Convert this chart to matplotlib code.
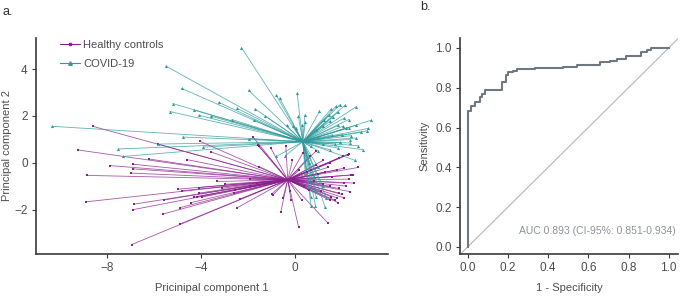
import matplotlib
matplotlib.use("Agg")
import matplotlib.pyplot as plt
from matplotlib.lines import Line2D

plt.rcParams['font.family'] = ['Liberation Sans', 'DejaVu Sans']

# ---------------- Panel a data (PCA scores) ----------------
healthy_center = (-0.30, -0.73)
covid_center = (0.34, 0.90)

healthy_x = [-8.61, -9.25, -7.87, -6.91, -6.91, -6.99, -8.84, -6.20, -4.57, -4.04,
             -3.55, -5.83, -3.30, -2.98, -4.99, -4.82, -4.07, -4.10, -4.28, -4.40,
             -5.56, -4.89, -5.60, -6.84, -6.91, -8.89, -4.89, -6.95, -2.45, -2.34,
             -2.55, -1.91, -0.92, -0.60, 0.16, 1.42, -1.52, -1.02, -0.38, -1.77,
             -1.56, -1.53, -1.63, -3.08, -1.91, -4.18, -3.97, -2.60,
             0.63, 0.34, 1.90, 2.26, 2.31, 2.06, 1.20, 1.50, 0.90, 2.11,
             2.70, 2.48, 2.40, 2.30, 2.54, 2.10, 1.90, 2.33, 2.00, 1.78,
             1.50, 1.84, 1.90, 2.10, 1.70, 1.55, 0.60, 1.30, 1.60, 1.00,
             0.80, 1.20, 1.50, 0.50, 0.70, 1.80, 1.10, 0.40, 2.20, 1.40,
             0.90, -0.16, -0.99, -0.50, 0.30, -0.20, -0.10, 0.20]
healthy_y = [1.56, 0.55, -0.12, -0.06, -0.26, -0.44, -0.54, 0.16, 0.13, 0.92,
             0.46, 0.80, -0.80, -0.92, -1.13, -1.20, -1.06, -1.30, -1.47, -1.70,
             -1.59, -1.92, -2.19, -1.77, -2.01, -1.67, -2.62, -3.50, -1.92, -1.55,
             -1.16, -0.70, -1.37, -2.12, -2.75, -2.59, 0.70, 0.63, 0.70, 1.09,
             0.74, -0.16, -0.85, -1.09, -1.00, -1.45, -1.47, -1.30,
             0.27, 0.42, 0.20, 0.34, 0.39, 0.28, 0.10, 0.00, -0.10, -0.23,
             -0.20, -0.52, -0.52, -0.70, -0.87, -0.87, -1.10, -1.23, -1.35, -1.50,
             -1.60, -1.70, -1.30, -1.50, -1.60, -1.45, -1.16, -0.40, -0.60, -0.50,
             -0.80, -0.90, -1.00, -0.40, -0.30, -0.30, -1.20, -1.00, -1.00, -0.20,
             0.50, -1.59, -1.34, -1.50, -1.60, -1.20, 0.10, -0.30]

covid_x = [-10.35, -5.83, -7.52, -7.30, -3.90, -0.78, -0.40, -2.27, -5.50, -4.82,
           -1.97, 0.10, -5.19, -5.32, -3.23, -4.28, -4.07, -3.57, -2.46, -1.69,
           -1.25, -2.68, -1.73, -0.79, -0.64, -0.35, 0.15, 0.43, 0.31, 0.04,
           -0.07, -4.78, -1.96,
           0.45, 1.05, 1.55, 1.76, 1.93, 2.13, 2.62, 1.47, 1.83, 2.11,
           2.30, 1.26, 3.26, 3.12, 3.09, 2.91, 2.70, 2.58, 2.41, 2.34,
           2.20, 2.30, 2.06, 1.85, 1.63, 1.49, 1.20, 0.92, 1.94, 1.70,
           1.20, 2.61, 2.33, 1.83, 1.50, 1.00, 0.70, 2.00, 1.60, 1.00,
           2.80, 2.60,
           0.69, 0.88, 1.29, 0.91, 0.68, 1.35, 0.55, 0.80, 1.00, 0.60,
           1.20, 0.45, 0.90]
covid_y = [1.56, 0.80, 0.59, 0.27, 0.67, 0.27, 0.30, 4.92, 4.14, 3.18,
           3.10, 2.98, 2.53, 2.19, 2.58, 2.25, 2.03, 1.99, 2.33, 2.30,
           1.99, 1.85, 1.82, 2.89, 2.77, 1.60, 1.99, 2.04, 1.63, 1.49,
           1.56, 1.10, 1.02,
           1.73, 2.20, 2.30, 2.42, 2.49, 2.45, 2.40, 2.06, 2.16, 1.92,
           1.85, 1.85, 1.82, 1.47, 1.37, 0.56, 0.73, 0.10, 1.16, 0.99,
           1.49, 1.50, 1.56, 1.60, 1.96, 1.77, 1.56, 1.42, 0.87, 0.80,
           0.80, 1.06, 0.85, 0.63, 0.55, 0.50, 0.70, 1.20, 1.20, 1.10,
           1.30, 1.60,
           -1.83, -1.83, -1.90, -1.45, -1.48, -1.52, -1.00, -0.60, -0.20, 0.00,
           -1.00, -0.50, -1.20]

x_ticks_a = [-8, -4, 0]
y_ticks_a = [-2, 0, 2, 4]

# ---------------- Panel b data (ROC) ----------------
roc_fpr = [0.0, 0.0, 0.018, 0.018, 0.035, 0.035, 0.06, 0.06, 0.073, 0.073,
           0.088, 0.088, 0.173, 0.173, 0.193, 0.193, 0.20, 0.20, 0.227, 0.227,
           0.247, 0.247, 0.335, 0.335, 0.475, 0.475, 0.543, 0.543, 0.66, 0.66,
           0.71, 0.71, 0.743, 0.743, 0.785, 0.785, 0.86, 0.86, 0.893, 0.893,
           0.913, 0.913, 1.0]
roc_tpr = [0.0, 0.683, 0.683, 0.708, 0.708, 0.73, 0.73, 0.755, 0.755, 0.77,
           0.77, 0.788, 0.788, 0.827, 0.827, 0.863, 0.863, 0.877, 0.877, 0.885,
           0.885, 0.892, 0.892, 0.897, 0.897, 0.905, 0.905, 0.915, 0.915, 0.927,
           0.927, 0.935, 0.935, 0.943, 0.943, 0.958, 0.958, 0.978, 0.978, 0.99,
           0.99, 1.0, 1.0]
auc_label = "AUC 0.893 (CI-95%: 0.851-0.934)"
roc_ticks = [0.0, 0.2, 0.4, 0.6, 0.8, 1.0]

# colours
C_HEALTHY = "#8B1F8E"
C_COVID = "#2E9A9C"
AX_COL = "#3a3a3a"
TICK_TXT = "#4d4d4d"

fig = plt.figure(figsize=(6.85, 2.96), dpi=100)

# ---------------- Panel a ----------------
ax1 = fig.add_axes([0.0526, 0.142, 0.5135, 0.730])
for x, y in zip(healthy_x, healthy_y):
    ax1.plot([healthy_center[0], x], [healthy_center[1], y], color=C_HEALTHY,
             lw=0.6, alpha=0.75, zorder=2)
for x, y in zip(covid_x, covid_y):
    ax1.plot([covid_center[0], x], [covid_center[1], y], color=C_COVID,
             lw=0.6, alpha=0.75, zorder=2)
ax1.scatter(healthy_x, healthy_y, marker='s', s=3, color=C_HEALTHY, lw=0, zorder=3)
ax1.scatter(covid_x, covid_y, marker='^', s=5, color=C_COVID, lw=0, zorder=3)

ax1.set_xlim(-11.02, 3.96)
ax1.set_ylim(-3.9, 5.34)
ax1.set_xticks(x_ticks_a)
ax1.set_yticks(y_ticks_a)
ax1.set_xlabel("Pricinipal component 1", fontsize=8, color=TICK_TXT, labelpad=6)
ax1.set_ylabel("Principal component 2", fontsize=8, color=TICK_TXT, labelpad=2)

handles = [Line2D([0], [0], color=C_HEALTHY, lw=0.8, marker='s', markersize=2),
           Line2D([0], [0], color=C_COVID, lw=0.8, marker='^', markersize=2.5)]
ax1.legend(handles, ["Healthy controls", "COVID-19"], loc='upper left',
           bbox_to_anchor=(0.04, 1.035), frameon=False, fontsize=8,
           handlelength=1.8, handletextpad=0.3, labelspacing=0.75,
           labelcolor=TICK_TXT)

# ---------------- Panel b ----------------
ax2 = fig.add_axes([0.6715, 0.142, 0.318, 0.730])
ax2.plot([-0.1, 1.1], [-0.1, 1.1], color="#b5b5b5", lw=0.8, zorder=1)
ax2.plot(roc_fpr, roc_tpr, color="#6f7880", lw=1.5, zorder=3)
ax2.text(1.035, 0.078, auc_label, ha='right', va='center', fontsize=7.5,
         color="#8c9399")
ax2.set_xlim(-0.038, 1.045)
ax2.set_ylim(-0.035, 1.05)
ax2.set_xticks(roc_ticks)
ax2.set_yticks(roc_ticks)
ax2.set_xticklabels([f"{t:.1f}" for t in roc_ticks])
ax2.set_yticklabels([f"{t:.1f}" for t in roc_ticks])
ax2.set_xlabel("1 - Specificity", fontsize=8, color=TICK_TXT, labelpad=6)
ax2.set_ylabel("Sensitivity", fontsize=8, color=TICK_TXT, labelpad=4)

for ax in (ax1, ax2):
    for s in ('top', 'right'):
        ax.spines[s].set_visible(False)
    for s in ('left', 'bottom'):
        ax.spines[s].set_color(AX_COL)
        ax.spines[s].set_linewidth(1.2)
    ax.tick_params(axis='both', labelsize=8.5, colors=AX_COL, labelcolor=TICK_TXT,
                   length=3, width=0.8, pad=3)

fig.text(0.004, 0.958, "a.", fontsize=9, color="#333333", va='center')
fig.text(0.613, 0.975, "b.", fontsize=9, color="#333333", va='center')

fig.savefig("out.png", dpi=100)
